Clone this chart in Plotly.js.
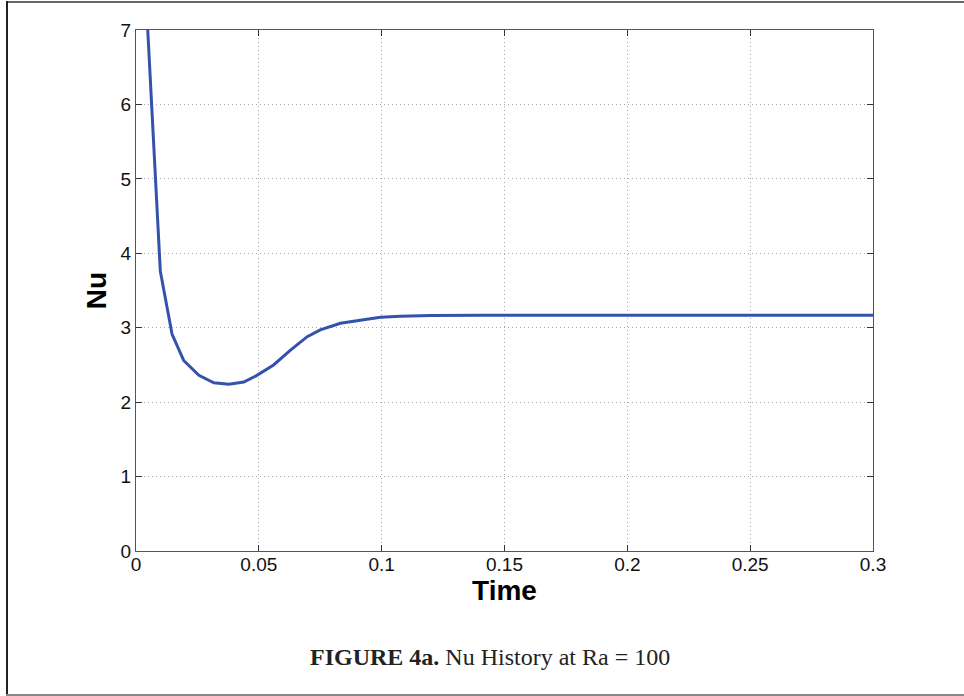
<!DOCTYPE html>
<html>
<head>
<meta charset="utf-8">
<script src="https://cdn.plot.ly/plotly-3.0.1.min.js"></script>
<style>
  html, body { margin: 0; padding: 0; background: #fff; }
  #wrap { position: relative; width: 964px; height: 696px; overflow: hidden; }
  #chart { position: absolute; left: 0; top: 0; width: 964px; height: 696px; }
  .frame-top { position: absolute; left: 6px; top: 1px; width: 958px; height: 2px; background: #666; }
  .frame-left { position: absolute; left: 6px; top: 1px; width: 2px; height: 695px; background: #222; }
  .frame-bottom { position: absolute; left: 6px; top: 694px; width: 958px; height: 2px; background: #888; }
</style>
</head>
<body>
<div id="wrap">
  <div id="chart"></div>
  <div class="frame-top"></div>
  <div class="frame-left"></div>
  <div class="frame-bottom"></div>
</div>
<script>
// Data
const time = [0.0047, 0.0099, 0.0147, 0.0194, 0.0256, 0.0317, 0.0378, 0.0439, 0.0487, 0.0560, 0.0629, 0.0697, 0.0750, 0.0832, 0.0913, 0.0995, 0.1076, 0.1200, 0.1400, 0.2000, 0.3000];
const nu   = [7.05,   3.76,   2.91,   2.56,   2.36,   2.26,   2.24,   2.27,   2.35,   2.50,   2.70,   2.88,   2.97,   3.06,   3.10,   3.14,   3.155,  3.165,  3.168,  3.168,  3.168];
const xTicks = [0, 0.05, 0.1, 0.15, 0.2, 0.25, 0.3];
const xTickLabels = ["0", "0.05", "0.1", "0.15", "0.2", "0.25", "0.3"];
const yTicks = [0, 1, 2, 3, 4, 5, 6, 7];
const yTickLabels = ["0", "1", "2", "3", "4", "5", "6", "7"];
const xTitle = "Time";
const yTitle = "Nu";
const caption = "<b>FIGURE 4a.</b> Nu History at Ra = 100";

const axisCommon = {
  showline: true,
  linecolor: '#555',
  linewidth: 1,
  mirror: 'ticks',
  ticks: 'inside',
  ticklen: 6,
  tickcolor: '#333',
  tickwidth: 1,
  showgrid: true,
  gridcolor: '#a8a8a8',
  gridwidth: 1,
  griddash: '1px,3px',
  zeroline: false,
  tickfont: { family: 'Liberation Sans, Arial, sans-serif', size: 19, color: '#111' },
  tickmode: 'array'
};

const trace = {
  x: time,
  y: nu,
  type: 'scatter',
  mode: 'lines',
  line: { color: '#3452ac', width: 3 },
  hoverinfo: 'x+y'
};

const layout = {
  width: 964,
  height: 696,
  margin: { l: 135.5, r: 91.3, t: 29.5, b: 145 },
  paper_bgcolor: '#fff',
  plot_bgcolor: '#fff',
  showlegend: false,
  xaxis: Object.assign({}, axisCommon, {
    range: [0, 0.3],
    tickvals: xTicks,
    ticktext: xTickLabels,
    ticklabelstandoff: -4,
    title: { text: '<b>' + xTitle + '</b>', font: { family: 'Liberation Sans, Arial, sans-serif', size: 28, color: '#000' }, standoff: 2 }
  }),
  yaxis: Object.assign({}, axisCommon, {
    range: [0, 7],
    tickvals: yTicks,
    ticktext: yTickLabels,
    title: { text: '<b>' + yTitle + '</b>', font: { family: 'Liberation Sans, Arial, sans-serif', size: 28, color: '#000' }, standoff: 5 }
  }),
  annotations: [{
    text: caption,
    xref: 'paper', yref: 'paper',
    x: 0.481, y: -0.2027,
    xanchor: 'center', yanchor: 'middle',
    showarrow: false,
    font: { family: 'Liberation Serif, Times New Roman, serif', size: 24, color: '#222' }
  }]
};

Plotly.newPlot('chart', [trace], layout, { displayModeBar: false, staticPlot: true });
</script>
</body>
</html>
